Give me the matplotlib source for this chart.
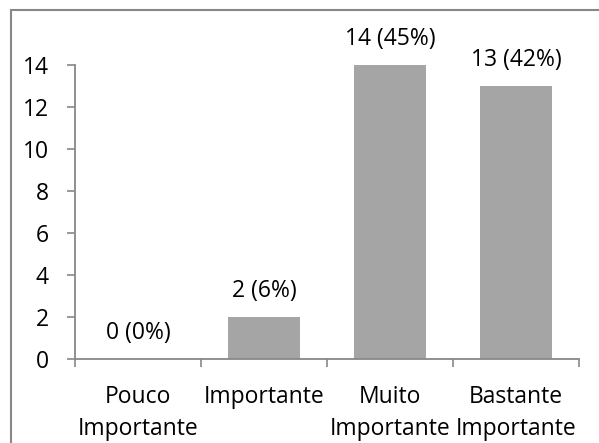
import matplotlib
matplotlib.use("Agg")
import matplotlib.pyplot as plt
from matplotlib.patches import Rectangle

categories = ["Pouco\nImportante", "Importante", "Muito\nImportante", "Bastante\nImportante"]
values = [0, 2, 14, 13]
labels = ["0 (0%)", "2 (6%)", "14 (45%)", "13 (42%)"]
yticks = [0, 2, 4, 6, 8, 10, 12, 14]

plt.rcParams['font.family'] = ['Open Sans', 'DejaVu Sans']
FS = 16.5
axis_color = '#888888'

fig = plt.figure(figsize=(5.99, 4.43), dpi=100)
fig.patch.set_facecolor('white')
fig.patches.append(Rectangle((11/599, -0.1), 1.2, (1 - 10/443) + 0.1,
                             transform=fig.transFigure, fill=False,
                             edgecolor=axis_color, linewidth=1.5))

ax = fig.add_axes([75/599, 1 - 359/443, (579 - 75)/599, (359 - 65)/443])
x = list(range(len(categories)))
ax.bar(x, values, width=0.57, color='#A5A5A5', zorder=2)

for xi, v, lab in zip(x, values, labels):
    ax.annotate(lab, (xi, v), xytext=(0, 14), textcoords='offset pixels',
                ha='center', va='bottom', fontsize=FS, clip_on=False)

ax.set_xlim(-0.5, len(categories) - 0.5)
ax.set_ylim(0, 14)
ax.set_yticks(yticks)
ax.set_yticklabels([str(t) for t in yticks], fontsize=FS)
ax.set_xticks(x)
ax.set_xticklabels(categories, fontsize=FS, linespacing=1.4)
ax.set_xticks([i - 0.5 for i in range(len(categories) + 1)], minor=True)

ax.tick_params(axis='x', which='major', length=0, pad=19)
ax.tick_params(axis='x', which='minor', length=6, width=1.2, color=axis_color, direction='out')
ax.tick_params(axis='y', which='major', length=6, width=1.2, color=axis_color, direction='out', pad=13)

for s in ['top', 'right']:
    ax.spines[s].set_visible(False)
for s in ['left', 'bottom']:
    ax.spines[s].set_color(axis_color)
    ax.spines[s].set_linewidth(1.3)

fig.savefig("out.png", dpi=100, facecolor='white')
